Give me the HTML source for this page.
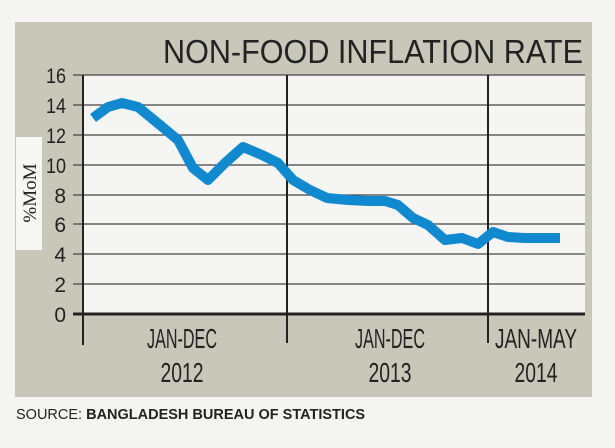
<!DOCTYPE html>
<html><head><style>
html,body{margin:0;padding:0;background:#f4f4f2;}
svg{display:block}
</style></head><body>
<svg width="615" height="448" viewBox="0 0 615 448" xmlns="http://www.w3.org/2000/svg">
<rect x="0" y="0" width="615" height="448" fill="#f4f4f2"/>
<rect x="15" y="22" width="577" height="375" fill="#c8c7b9"/>
<rect x="16" y="137" width="26" height="113" fill="#f7f7f5"/>
<rect x="83" y="75" width="502" height="239" fill="#f5f5f3"/>
<text x="583" y="63" text-anchor="end" font-family="Liberation Sans Narrow, Liberation Sans, sans-serif" font-size="33" fill="#222" textLength="420" lengthAdjust="spacingAndGlyphs">NON-FOOD INFLATION RATE</text>
<g stroke="#444" stroke-width="1.3">
<line x1="73" y1="75" x2="585" y2="75"/>
<line x1="73" y1="105" x2="585" y2="105"/>
<line x1="73" y1="135" x2="585" y2="135"/>
<line x1="73" y1="165" x2="585" y2="165"/>
<line x1="73" y1="195" x2="585" y2="195"/>
<line x1="73" y1="224" x2="585" y2="224"/>
<line x1="73" y1="254" x2="585" y2="254"/>
<line x1="73" y1="284" x2="585" y2="284"/>
</g>
<g stroke="#222" stroke-width="2">
<line x1="73" y1="314" x2="585" y2="314" stroke-width="3"/>
<line x1="83" y1="75" x2="83" y2="345"/>
<line x1="287" y1="75" x2="287" y2="343"/>
<line x1="488" y1="75" x2="488" y2="343"/>
</g>
<g font-family="Liberation Sans Narrow, Liberation Sans, sans-serif" font-size="21" fill="#222" text-anchor="end">
<text x="66" y="83" textLength="20" lengthAdjust="spacingAndGlyphs">16</text><text x="66" y="113" textLength="20" lengthAdjust="spacingAndGlyphs">14</text><text x="66" y="143" textLength="20" lengthAdjust="spacingAndGlyphs">12</text>
<text x="66" y="173" textLength="20" lengthAdjust="spacingAndGlyphs">10</text><text x="66" y="203">8</text><text x="66" y="232">6</text>
<text x="66" y="262">4</text><text x="66" y="292">2</text><text x="66" y="322">0</text>
</g>
<text transform="translate(36,193) rotate(-90)" text-anchor="middle" font-family="Liberation Serif, serif" font-size="19" fill="#222">%MoM</text>
<g font-family="Liberation Sans Narrow, Liberation Sans, sans-serif" font-size="28" fill="#222" text-anchor="middle">
<text x="182" y="348" textLength="70" lengthAdjust="spacingAndGlyphs">JAN-DEC</text>
<text x="182" y="382" textLength="43" lengthAdjust="spacingAndGlyphs">2012</text>
<text x="390" y="348" textLength="70" lengthAdjust="spacingAndGlyphs">JAN-DEC</text>
<text x="390" y="382" textLength="43" lengthAdjust="spacingAndGlyphs">2013</text>
<text x="536" y="348" textLength="82" lengthAdjust="spacingAndGlyphs">JAN-MAY</text>
<text x="536" y="382" textLength="43" lengthAdjust="spacingAndGlyphs">2014</text>
</g>
<polyline fill="none" stroke="#1189cf" stroke-width="10" stroke-linejoin="round" stroke-linecap="butt"
points="93,118 108,107 122,103 138,107 160,125 178,140 193,168 208,180 225,163 243,147 262,155 278,163 293,180 310,190 327,198 348,200 368,201 385,201 398,205 413,218 428,225 445,240 462,238 478,244 493,232 508,237 524,238 542,238 560,238"/>
<text x="16" y="419" font-family="Liberation Sans, sans-serif" font-size="14.5" fill="#222">SOURCE: <tspan font-weight="bold">BANGLADESH BUREAU OF STATISTICS</tspan></text>
</svg>
</body></html>
